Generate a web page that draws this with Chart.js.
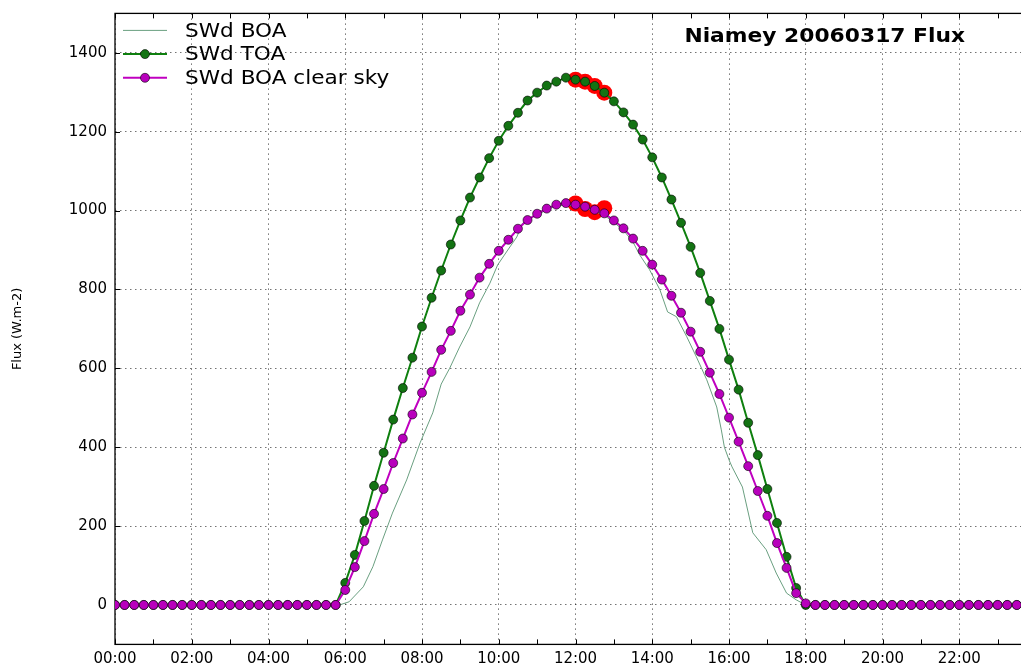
<!DOCTYPE html>
<html>
<head>
<meta charset="utf-8">
<script src="https://cdn.jsdelivr.net/npm/chart.js@4.4.1/dist/chart.umd.min.js"></script>
<style>
  html, body { margin: 0; padding: 0; background: #fff; overflow: hidden; }
  #wrap { width: 1060px; height: 668px; }
</style>
</head>
<body>
<div id="wrap"><canvas id="fluxChart" width="1060" height="668"></canvas></div>
<script>
// quarter-hour values, 00:00 .. 23:45 (W.m-2)
const swdToa = [
  0, 0, 0, 0, 0, 0, 0, 0, 0, 0, 0, 0, 0, 0, 0, 0, 0, 0, 0, 0, 0, 0, 0, 0,
  56, 127, 213, 302, 386, 470, 550, 627, 706, 779, 848, 914,
  975, 1033, 1084, 1133, 1177, 1215, 1248, 1279, 1299, 1317, 1327, 1337,
  1332, 1327, 1316, 1299, 1277, 1249, 1218, 1180, 1135, 1084, 1028, 969,
  908, 842, 771, 700, 622, 546, 462, 380, 294, 208, 122, 43,
  0, 0, 0, 0, 0, 0, 0, 0, 0, 0, 0, 0, 0, 0, 0, 0, 0, 0, 0, 0, 0, 0, 0, 0
];
const swdClear = [
  0, 0, 0, 0, 0, 0, 0, 0, 0, 0, 0, 0, 0, 0, 0, 0, 0, 0, 0, 0, 0, 0, 0, 0,
  38, 96, 162, 231, 294, 360, 422, 483, 538, 591, 647, 695,
  746, 787, 830, 865, 898, 926, 954, 976, 992, 1005, 1015, 1019,
  1015, 1010, 1002, 993, 975, 955, 929, 898, 863, 825, 784, 741,
  693, 642, 589, 535, 475, 414, 352, 289, 226, 157, 94, 30,
  4, 0, 0, 0, 0, 0, 0, 0, 0, 0, 0, 0, 0, 0, 0, 0, 0, 0, 0, 0, 0, 0, 0, 0
];
// measured surface flux, irregular time steps (decimal hours)
const boaHours = [
  0, 5.85, 6.1, 6.47, 6.72, 6.97, 7.23, 7.6, 7.95, 8.28, 8.5, 8.72, 8.98,
  9.25, 9.5, 9.77, 9.97, 10.2, 10.47, 10.62, 10.72, 11.0, 11.25, 11.5, 11.75,
  12.0, 12.25, 12.5, 12.75, 13.0, 13.25, 13.5, 13.67, 13.93, 14.2, 14.4, 14.63,
  14.9, 15.15, 15.42, 15.68, 15.8, 15.88, 16.0, 16.08, 16.35, 16.62, 16.97,
  17.23, 17.5, 17.75, 18.0, 24
];
const swdBoa = [
  0, 0, 8, 46, 97, 165, 233, 317, 411, 487, 560, 600, 654,
  705, 766, 816, 862, 895, 933, 968, 977, 988, 1002, 1012, 1014,
  1012, 1006, 998, 988, 970, 950, 920, 888, 850, 799, 743, 731,
  680, 629, 571, 502, 444, 400, 368, 350, 299, 183, 140,
  81, 30, 13, 0, 0
];
// highlighted samples around noon
const selHours = [12, 12.25, 12.5, 12.75];
const selToa = [1332, 1327, 1316, 1299];
const selClear = [1018, 1004, 996, 1006];

const fluxTicks = [0, 200, 400, 600, 800, 1000, 1200, 1400];
const hourTicks = [0, 1, 2, 3, 4, 5, 6, 7, 8, 9, 10, 11, 12, 13, 14, 15, 16, 17, 18, 19, 20, 21, 22, 23, 24];

const quarterHours = swdToa.map((_, i) => i / 4);
const pts = (xs, ys) => xs.map((x, i) => ({ x: x, y: ys[i] }));
const hhmm = (h) => String(h).padStart(2, "0") + ":00";

const FONT = "DejaVu Sans";
const GREEN = "#0f800f";
const MAGENTA = "#c000c0";

// box, inward tick marks, legend and title drawn over the chart area
const axesDecor = {
  id: "axesDecor",
  beforeDatasetsDraw(chart) {
    const { ctx, chartArea: a, scales } = chart;
    ctx.save();
    ctx.strokeStyle = "#000";
    ctx.lineWidth = 1.3;
    ctx.strokeRect(a.left, a.top, a.right - a.left, a.bottom - a.top);
    ctx.lineWidth = 1;
    ctx.beginPath();
    hourTicks.forEach((h) => {
      const x = Math.round(scales.x.getPixelForValue(h)) + 0.5;
      ctx.moveTo(x, a.bottom); ctx.lineTo(x, a.bottom - 5);
      ctx.moveTo(x, a.top); ctx.lineTo(x, a.top + 5);
    });
    fluxTicks.forEach((v) => {
      const y = Math.round(scales.y.getPixelForValue(v)) + 0.5;
      ctx.moveTo(a.left, y); ctx.lineTo(a.left + 5, y);
      ctx.moveTo(a.right, y); ctx.lineTo(a.right - 5, y);
    });
    ctx.stroke();
    ctx.restore();
  },
  afterDraw(chart) {
    const { ctx, chartArea: a } = chart;
    ctx.save();
    // legend, top left inside the axes
    const x0 = a.left + 8, x1 = a.left + 52, tx = a.left + 70;
    chart.data.datasets.slice(0, 3).forEach((ds, i) => {
      const y = a.top + 17 + i * 23.7;
      ctx.strokeStyle = ds.borderColor;
      ctx.lineWidth = ds.borderWidth;
      ctx.beginPath(); ctx.moveTo(x0, y); ctx.lineTo(x1, y); ctx.stroke();
      if (ds.pointRadius > 0) {
        ctx.beginPath();
        ctx.arc((x0 + x1) / 2, y, ds.pointRadius, 0, Math.PI * 2);
        ctx.fillStyle = ds.pointBackgroundColor;
        ctx.fill();
        ctx.lineWidth = ds.pointBorderWidth;
        ctx.strokeStyle = ds.pointBorderColor;
        ctx.stroke();
      }
      ctx.save();
      ctx.translate(tx, y + 1);
      ctx.scale(1.08, 1);
      ctx.fillStyle = "#000";
      ctx.font = "20px '" + FONT + "'";
      ctx.textBaseline = "middle";
      ctx.fillText(ds.label, 0, 0);
      ctx.restore();
    });
    // title
    ctx.translate(a.right - 71, a.top + 23);
    ctx.scale(1.09, 1);
    ctx.fillStyle = "#000";
    ctx.font = "bold 20px '" + FONT + "'";
    ctx.textAlign = "right";
    ctx.textBaseline = "middle";
    ctx.fillText("Niamey 20060317 Flux", 0, 0);
    ctx.restore();
  }
};

const gridColor = "rgba(0,0,0,0.55)";

new Chart(document.getElementById("fluxChart").getContext("2d"), {
  type: "line",
  data: {
    datasets: [
      {
        label: "SWd BOA",
        data: pts(boaHours, swdBoa),
        borderColor: "#6a9f80",
        borderWidth: 1,
        pointRadius: 0,
        order: 2,
      },
      {
        label: "SWd TOA",
        data: pts(quarterHours, swdToa),
        borderColor: GREEN,
        borderWidth: 2,
        pointRadius: 4.5,
        pointBackgroundColor: "#137313",
        pointBorderColor: "#000",
        pointBorderWidth: 0.6,
        order: 1,
      },
      {
        label: "SWd BOA clear sky",
        data: pts(quarterHours, swdClear),
        borderColor: MAGENTA,
        borderWidth: 2,
        pointRadius: 4.5,
        pointBackgroundColor: "#b800bc",
        pointBorderColor: "#000",
        pointBorderWidth: 0.6,
        order: 0,
      },
      {
        label: "",
        data: pts(selHours, selToa),
        showLine: false,
        pointRadius: 8,
        pointBackgroundColor: "#ff0000",
        pointBorderWidth: 0,
        order: 3,
      },
      {
        label: "",
        data: pts(selHours, selClear),
        showLine: false,
        pointRadius: 8,
        pointBackgroundColor: "#ff0000",
        pointBorderWidth: 0,
        order: 3,
      },
    ],
  },
  options: {
    responsive: false,
    animation: false,
    layout: { padding: { top: 13.4, right: 24, left: 0, bottom: 0 } },
    plugins: {
      legend: { display: false },
      tooltip: { enabled: false },
    },
    elements: { line: { tension: 0 } },
    scales: {
      x: {
        type: "linear",
        min: 0,
        max: 24,
        afterBuildTicks: (axis) => { axis.ticks = hourTicks.map((v) => ({ value: v })); },
        afterFit: (scale) => {
          scale.height = 23.6;
          scale.paddingLeft = 0;
          scale.paddingRight = 0;
        },
        ticks: {
          autoSkip: false,
          maxRotation: 0,
          padding: 6,
          color: "#000",
          font: { family: FONT, size: 15 },
          callback: (v) => (v % 2 === 0 && v < 24 ? hhmm(v) : ""),
        },
        grid: {
          drawTicks: false,
          color: (c) => (c.tick && c.tick.value % 2 === 0 ? gridColor : "rgba(0,0,0,0)"),
        },
        border: { display: false, dash: [1.5, 3.5] },
      },
      y: {
        min: -100,
        max: 1500,
        afterBuildTicks: (axis) => { axis.ticks = fluxTicks.map((v) => ({ value: v })); },
        afterFit: (scale) => {
          scale.width = 115;
          scale.paddingTop = 0;
          scale.paddingBottom = 0;
        },
        ticks: {
          padding: 8,
          color: "#000",
          font: { family: FONT, size: 15 },
          callback: (v) => String(v),
        },
        grid: { drawTicks: false, color: gridColor },
        border: { display: false, dash: [1.5, 3.5] },
        title: {
          display: true,
          text: "Flux (W.m-2)",
          color: "#000",
          font: { family: FONT, size: 13 },
          padding: { top: 10, bottom: 0 },
        },
      },
    },
  },
  plugins: [axesDecor],
});
</script>
</body>
</html>
